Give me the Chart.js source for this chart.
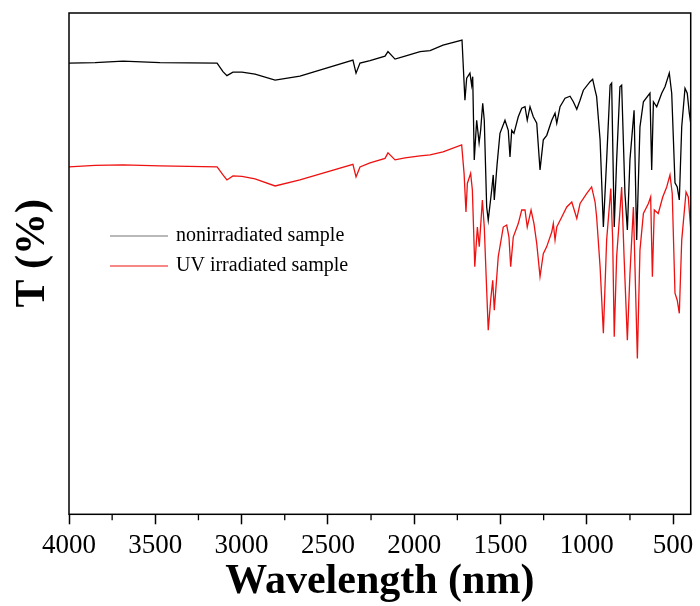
<!DOCTYPE html>
<html>
<head>
<meta charset="utf-8">
<script src="https://cdn.jsdelivr.net/npm/chart.js@4/dist/chart.umd.min.js"></script>
<style>
  html, body { margin: 0; padding: 0; background: #fff; }
  #wrap { width: 700px; height: 606px; }
</style>
</head>
<body>
<div id="wrap"><canvas id="c" width="700" height="606"></canvas></div>
<script>
// ---- data (wavenumber in cm-1, transmittance in arbitrary %) ----
const seriesLabels = ['nonirradiated sample', 'UV irradiated sample'];
const xTickValues = [4000, 3500, 3000, 2500, 2000, 1500, 1000, 500];
const xMinorTickValues = [3750, 3250, 2750, 2250, 1750, 1250, 750];

const blackWn = [4000,3849,3687,3473,3142,3108,3085,3050,2998,2922,2806,2662,2355,2337,2314,2256,2169,2152,2111,2053,1966,1908,1833,1723,1706,1696,1677,1667,1661,1652,1638,1624,1615,1603,1594,1580,1571,1551,1542,1536,1520,1503,1474,1455,1445,1435,1422,1397,1377,1358,1345,1329,1310,1290,1271,1252,1232,1203,1184,1174,1155,1126,1097,1078,1058,1039,1020,981,966,952,943,923,904,885,865,856,841,827,808,798,779,765,750,726,711,692,672,634,624,614,595,566,547,522,508,489,476,464,450,431,418,406,398];
const blackT = [90.0,90.1,90.4,90.1,90.0,88.3,87.5,88.2,88.2,87.8,86.6,87.4,90.6,88.0,90.0,90.5,91.4,92.3,90.8,91.4,92.3,92.5,93.6,94.6,82.6,87.0,88.0,85.6,87.3,70.7,78.6,74.1,76.6,82.0,78.6,61.3,58.7,64.7,67.7,62.7,69.7,76.0,78.6,76.6,71.3,76.6,76.0,79.3,81.0,81.3,78.6,81.3,79.3,78.0,68.7,74.7,75.6,78.6,80.0,78.0,81.3,83.0,83.4,82.3,80.8,82.6,84.6,86.3,86.8,84.6,83.3,74.7,57.3,70.7,85.6,86.0,57.3,70.7,85.3,85.6,64.1,56.7,70.7,80.6,54.7,77.3,82.3,84.0,68.7,82.3,81.3,84.0,85.3,88.0,84.0,66.1,65.3,62.7,77.3,85.0,84.0,80.0,78.0];

const redWn = [4000,3849,3687,3473,3142,3108,3085,3050,2998,2922,2806,2662,2355,2337,2314,2256,2169,2152,2111,2053,1966,1908,1833,1725,1711,1700,1692,1673,1663,1649,1634,1623,1605,1594,1580,1571,1557,1545,1536,1513,1484,1464,1451,1441,1426,1397,1377,1358,1345,1323,1306,1290,1271,1252,1232,1203,1194,1184,1174,1145,1116,1087,1058,1039,1000,972,952,943,923,904,885,861,850,841,827,798,784,765,750,730,707,692,672,643,630,620,609,586,560,537,518,505,489,476,464,450,425,412,402,398];
const redT = [69.3,69.6,69.7,69.5,69.3,67.7,66.7,67.5,67.4,66.9,65.5,66.7,69.8,67.3,69.3,70.1,71.0,72.1,70.7,71.1,71.5,71.7,72.3,73.7,68.0,60.3,66.0,68.0,64.7,49.4,57.3,53.4,62.7,57.3,44.7,36.7,42.7,46.7,40.7,51.4,57.3,57.7,55.3,49.4,55.3,58.0,60.7,60.7,57.3,60.7,58.0,54.0,47.4,52.0,53.4,56.3,58.0,54.7,57.3,59.3,61.3,62.3,59.0,62.0,64.0,65.3,62.3,59.3,49.4,36.1,54.7,65.0,54.7,35.4,51.4,65.3,51.4,34.7,48.0,61.3,31.1,52.7,60.0,62.0,63.3,47.4,60.7,60.0,63.3,65.3,67.7,64.0,44.1,42.7,40.1,54.7,64.3,63.3,58.7,57.0];

const seriesColors = ['#000000', '#ee1111'];

const SERIF = "'Liberation Serif', 'Times New Roman', serif";

function toPoints(xs, ys) { return xs.map((x, i) => ({ x: x, y: ys[i] })); }

const framePlugin = {
  id: 'frameAndMinor',
  afterDraw(chart) {
    const ctx = chart.ctx;
    const a = chart.chartArea;
    const xs = chart.scales.x;
    ctx.save();
    ctx.strokeStyle = '#000';
    ctx.lineWidth = 1.5;
    ctx.strokeRect(a.left, a.top, a.right - a.left, a.bottom - a.top);
    ctx.lineWidth = 1.3;
    ctx.beginPath();
    xMinorTickValues.forEach(v => {
      const px = xs.getPixelForValue(v);
      ctx.moveTo(px, a.bottom);
      ctx.lineTo(px, a.bottom + 6);
    });
    ctx.stroke();
    ctx.restore();
  }
};

const legendPlugin = {
  id: 'insideLegend',
  afterDraw(chart) {
    const ctx = chart.ctx;
    ctx.save();
    ctx.font = '20px ' + SERIF;
    ctx.textBaseline = 'middle';
    ctx.textAlign = 'left';
    chart.data.datasets.forEach((ds, i) => {
      const y = 236 + i * 30;
      ctx.strokeStyle = ds.borderColor;
      ctx.globalAlpha = i === 0 ? 0.55 : 1;
      ctx.lineWidth = 1.2;
      ctx.beginPath();
      ctx.moveTo(110, y);
      ctx.lineTo(168, y);
      ctx.stroke();
      ctx.globalAlpha = 1;
      ctx.fillStyle = '#000';
      ctx.fillText(ds.label, 176, y);
    });
    ctx.restore();
  }
};

new Chart(document.getElementById('c'), {
  type: 'line',
  data: {
    datasets: [
      { label: seriesLabels[0], data: toPoints(blackWn, blackT), borderColor: seriesColors[0], borderWidth: 1.3, pointRadius: 0, tension: 0, fill: false },
      { label: seriesLabels[1], data: toPoints(redWn, redT), borderColor: seriesColors[1], borderWidth: 1.3, pointRadius: 0, tension: 0, fill: false }
    ]
  },
  options: {
    responsive: false,
    animation: false,
    devicePixelRatio: 1,
    layout: { padding: { top: 13, right: 9.3, bottom: 0, left: 0 } },
    plugins: { legend: { display: false }, tooltip: { enabled: false } },
    scales: {
      x: {
        type: 'linear',
        reverse: true,
        min: 398,
        max: 4000,
        afterBuildTicks: (scale) => { scale.ticks = xTickValues.map(v => ({ value: v })); },
        afterFit: (scale) => { scale.height = 91.7; },
        ticks: {
          color: '#000',
          font: { family: SERIF, size: 27 },
          padding: 5,
          maxRotation: 0,
          autoSkip: false,
          callback: (v) => String(v)
        },
        grid: { display: true, drawOnChartArea: false, drawTicks: true, tickLength: 10, tickColor: '#000', tickWidth: 1.5 },
        border: { display: false },
        title: {
          display: true,
          text: 'Wavelength (nm)',
          color: '#000',
          font: { family: SERIF, size: 42, weight: 'bold', lineHeight: 1 },
          padding: { top: 0, bottom: 3 }
        }
      },
      y: {
        type: 'linear',
        min: 0,
        max: 100,
        afterFit: (scale) => { scale.width = 69; },
        ticks: { display: false },
        grid: { display: false, drawTicks: false },
        border: { display: false },
        title: {
          display: true,
          text: '  T (%)',
          color: '#000',
          font: { family: SERIF, size: 42, weight: 'bold', lineHeight: 1 },
          padding: { top: 12, bottom: 0 }
        }
      }
    }
  },
  plugins: [framePlugin, legendPlugin]
});
</script>
</body>
</html>
